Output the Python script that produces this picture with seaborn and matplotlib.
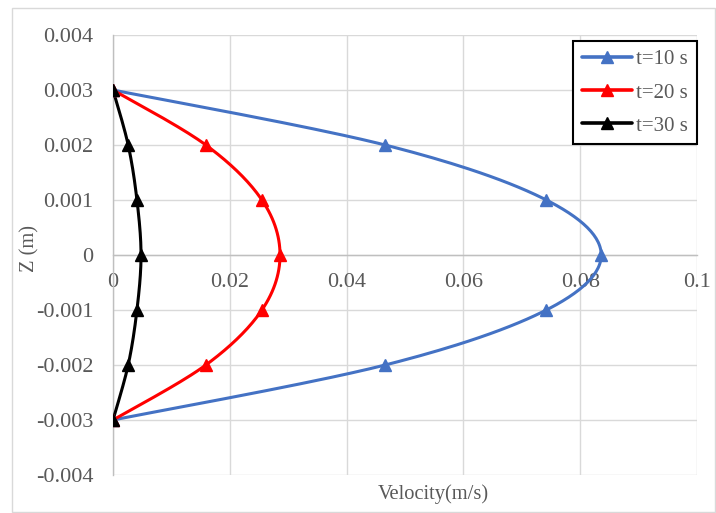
import numpy as np
import pandas as pd
import matplotlib
matplotlib.use("Agg")
import matplotlib.pyplot as plt
import seaborn as sns
from matplotlib.patches import Rectangle
from matplotlib.lines import Line2D

# ---- data ----
z_values = [0.003, 0.002, 0.001, 0.0, -0.001, -0.002, -0.003]
vel_t10 = [0.0, 0.0466, 0.0742, 0.0836, 0.0742, 0.0466, 0.0]
vel_t20 = [0.0, 0.0159, 0.0255, 0.0286, 0.0255, 0.0159, 0.0]
vel_t30 = [0.0, 0.0026, 0.0041, 0.0048, 0.0041, 0.0026, 0.0]
series_labels = ["t=10 s", "t=20 s", "t=30 s"]
series_colors = ["#4472C4", "#FF0000", "#000000"]
x_ticks = [0, 0.02, 0.04, 0.06, 0.08, 0.1]
x_ticklabels = ["0", "0.02", "0.04", "0.06", "0.08", "0.1"]
y_ticks = [0.004, 0.003, 0.002, 0.001, 0, -0.001, -0.002, -0.003, -0.004]
y_ticklabels = ["0.004", "0.003", "0.002", "0.001", "0", "-0.001", "-0.002", "-0.003", "-0.004"]


def smooth(xs, ys, n=30):
    """Excel-like smoothed line (uniform Catmull-Rom) through the data points."""
    p = np.column_stack([xs, ys]).astype(float)
    p = np.vstack([p[0], p, p[-1]])
    out = []
    for i in range(1, len(p) - 2):
        p0, p1, p2, p3 = p[i - 1], p[i], p[i + 1], p[i + 2]
        t = np.linspace(0, 1, n, endpoint=(i == len(p) - 3))[:, None]
        seg = 0.5 * ((2 * p1) + (-p0 + p2) * t + (2 * p0 - 5 * p1 + 4 * p2 - p3) * t ** 2
                     + (-p0 + 3 * p1 - 3 * p2 + p3) * t ** 3)
        out.append(seg)
    out = np.vstack(out)
    return out[:, 0], out[:, 1]


sns.set_theme(style="white")
plt.rcParams['font.family'] = ['Liberation Serif', 'DejaVu Serif']

fig = plt.figure(figsize=(7.16, 5.13), dpi=100)
ax = fig.add_axes([113 / 716, 1 - 475 / 513, (697 - 113) / 716, (475 - 35) / 513])

# outer chart frame
fig.patches.append(Rectangle((12 / 716, 1 - 512 / 513), 703 / 716, 504 / 513,
                             transform=fig.transFigure, fill=False,
                             edgecolor="#d9d9d9", linewidth=1.0, zorder=0))

for vals, lab, col in zip([vel_t10, vel_t20, vel_t30], series_labels, series_colors):
    sx, sy = smooth(vals, z_values)
    curve = pd.DataFrame({"v": sx, "z": sy})
    sns.lineplot(data=curve, x="v", y="z", sort=False, color=col, linewidth=2.2,
                 ax=ax, legend=False, estimator=None, zorder=3)
    pts = pd.DataFrame({"v": vals, "z": z_values})
    ax.plot(pts["v"], pts["z"], linestyle="none", marker="^", markersize=8,
            color=col, zorder=4)

handles = [Line2D([], [], color=c, linewidth=2.6, marker="^", markersize=8) for c in series_colors]
leg = ax.legend(handles, series_labels, loc="upper right", bbox_to_anchor=(1.0, 0.986),
                borderaxespad=0, frameon=True, fancybox=False, edgecolor="black",
                fontsize=15, handlelength=2.4, handletextpad=0.2, labelspacing=0.65,
                borderpad=0.42, labelcolor="#595959")
leg.get_frame().set_linewidth(1.5)
leg.get_frame().set_alpha(1)

ax.set_xlim(0, 0.1)
ax.set_ylim(-0.004, 0.004)
ax.set_xticks(x_ticks)
ax.set_xticklabels(x_ticklabels)
ax.set_yticks(y_ticks)
ax.set_yticklabels(y_ticklabels)
ax.grid(True, color="#d9d9d9", linewidth=1.0)
ax.set_axisbelow(True)

for s in ["top", "right"]:
    ax.spines[s].set_visible(False)
ax.spines["bottom"].set_position(("data", 0))
ax.spines["bottom"].set_color("#bfbfbf")
ax.spines["left"].set_color("#bfbfbf")
ax.spines["bottom"].set_linewidth(1.0)
ax.spines["left"].set_linewidth(1.0)

ax.tick_params(axis="both", length=0, labelsize=16, labelcolor="#595959")
ax.tick_params(axis="x", pad=13)
ax.tick_params(axis="y", pad=14)

ax.set_xlabel("")
ax.set_ylabel("")
fig.text(433 / 716, 1 - 494 / 513, "Velocity(m/s)", ha="center", va="center",
         fontsize=14.8, color="#595959")
fig.text(30 / 716, 1 - 249 / 513, "Z (m)", ha="center", va="center", rotation=90,
         fontsize=14.8, color="#595959")

fig.savefig("out.png", dpi=100)
